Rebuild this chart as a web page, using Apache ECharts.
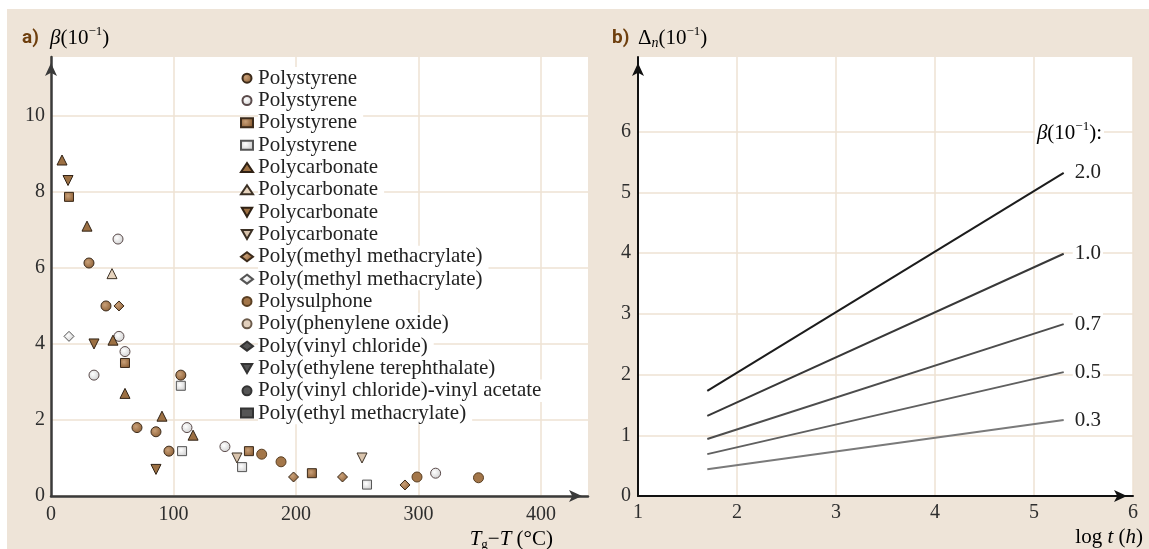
<!DOCTYPE html>
<html>
<head>
<meta charset="utf-8">
<script src="https://cdn.jsdelivr.net/npm/echarts@6.0.0/dist/echarts.min.js"></script>
<style>
  html, body { margin: 0; padding: 0; background: #fff; }
  #container { width: 1149px; height: 549px; }
</style>
</head>
<body>
<div id="container"></div>
<script>
var dom = document.getElementById('container');
var myChart = echarts.init(dom, null, { renderer: 'canvas' });

var SERIF = "'Liberation Serif', 'Times New Roman', serif";

// ---- panel a) data: [Tg - T (°C), beta (10^-1)]
var materials = [
  'Polystyrene', 'Polystyrene', 'Polystyrene', 'Polystyrene',
  'Polycarbonate', 'Polycarbonate', 'Polycarbonate', 'Polycarbonate',
  'Poly(methyl methacrylate)', 'Poly(methyl methacrylate)',
  'Polysulphone', 'Poly(phenylene oxide)', 'Poly(vinyl chloride)',
  'Poly(ethylene terephthalate)', 'Poly(vinyl chloride)-vinyl acetate',
  'Poly(ethyl methacrylate)'
];
var psFillCircle = [[31, 6.13], [44.9, 5.0], [70.2, 1.8], [85.7, 1.69], [96.3, 1.18], [106, 3.18]];
var psOpenCircle = [[54.7, 6.76], [55.5, 4.2], [60.4, 3.8], [35.1, 3.18], [111, 1.8], [142, 1.3], [314, 0.6]];
var psFillSquare = [[14.7, 7.87], [60.4, 3.5], [161.6, 1.18], [213, 0.6]];
var psOpenSquare = [[106, 2.9], [107, 1.18], [156, 0.76], [258, 0.3]];
var pcFillUp = [[9, 8.84], [29.4, 7.1], [50.6, 4.1], [60.4, 2.7], [90.6, 2.1], [116, 1.6]];
var pcOpenUp = [[49.8, 5.85]];
var pcFillDown = [[13.9, 8.3], [35.1, 4.0], [85.7, 0.7]];
var pcOpenDown = [[151.8, 1.0], [253.9, 1.0]];
var pmmaFill = [[55.5, 5.0], [198, 0.5], [238, 0.5], [289, 0.29]];
var pmmaOpen = [[14.7, 4.2]];
var psuFill = [[172, 1.1], [187.8, 0.9], [298.8, 0.5], [349, 0.48]];
var ppoOpen = [];
var pvcFill = [];
var petFill = [];
var pvcvaFill = [];
var pemaFill = [];
var pointSets = [psFillCircle, psOpenCircle, psFillSquare, psOpenSquare,
  pcFillUp, pcOpenUp, pcFillDown, pcOpenDown, pmmaFill, pmmaOpen,
  psuFill, ppoOpen, pvcFill, petFill, pvcvaFill, pemaFill];

var xTicksA = [0, 100, 200, 300, 400];
var yTicksA = [0, 2, 4, 6, 8, 10];

// ---- panel b) data: log t (h) vs birefringence (10^-1)
var logT = [1.7, 5.3];
var betaLabels = ['2.0', '1.0', '0.7', '0.5', '0.3'];
var dn20 = [1.73, 5.32];
var dn10 = [1.32, 3.99];
var dn07 = [0.94, 2.83];
var dn05 = [0.69, 2.04];
var dn03 = [0.44, 1.25];
var lineSets = [dn20, dn10, dn07, dn05, dn03];
var xTicksB = [1, 2, 3, 4, 5, 6];
var yTicksB = [0, 1, 2, 3, 4, 5, 6];

// ---- styles
var brownShade = {
  type: 'radial', x: 0.4, y: 0.4, r: 0.65,
  colorStops: [{ offset: 0, color: '#c9a078' }, { offset: 1, color: '#8c5f35' }]
};
var greyShade = {
  type: 'radial', x: 0.4, y: 0.4, r: 0.65,
  colorStops: [{ offset: 0, color: '#ffffff' }, { offset: 1, color: '#cfcfcf' }]
};
var downTri = 'path://M0,0L10,0L5,8.66Z';
var markStyles = [
  { symbol: 'circle', fill: brownShade, stroke: '#3b2a1a' },
  { symbol: 'circle', fill: greyShade, stroke: '#5a4a4a' },
  { symbol: 'rect', fill: brownShade, stroke: '#3b2a1a' },
  { symbol: 'rect', fill: greyShade, stroke: '#555' },
  { symbol: 'triangle', fill: '#9c7043', stroke: '#2f2114' },
  { symbol: 'triangle', fill: '#e6d3bd', stroke: '#3b3024' },
  { symbol: downTri, fill: '#9c7043', stroke: '#2f2114' },
  { symbol: downTri, fill: '#d9c4ad', stroke: '#3b3024' },
  { symbol: 'diamond', fill: brownShade, stroke: '#3b2a1a' },
  { symbol: 'diamond', fill: greyShade, stroke: '#555' },
  { symbol: 'circle', fill: '#a37649', stroke: '#5a3f22' },
  { symbol: 'circle', fill: '#e2d0bd', stroke: '#6a5a4a' },
  { symbol: 'diamond', fill: '#555', stroke: '#333' },
  { symbol: downTri, fill: '#555', stroke: '#333' },
  { symbol: 'circle', fill: '#555', stroke: '#333' },
  { symbol: 'rect', fill: '#555', stroke: '#333' }
];
var lineColors = ['#1c1c1c', '#383838', '#4d4d4d', '#606060', '#7a7a7a'];

var series = [];
var legendNames = [];
materials.forEach(function (m, i) {
  var name = m + '#' + i;
  legendNames.push(name);
  var st = markStyles[i];
  series.push({
    type: 'scatter',
    name: name,
    xAxisIndex: 0,
    yAxisIndex: 0,
    symbol: st.symbol,
    symbolSize: st.symbol === 'rect' ? 9 : 10,
    itemStyle: { color: st.fill, borderColor: st.stroke, borderWidth: 1, opacity: 1 },
    data: pointSets[i],
    z: 3
  });
});
lineSets.forEach(function (vals, i) {
  series.push({
    type: 'line',
    name: 'beta ' + betaLabels[i],
    xAxisIndex: 1,
    yAxisIndex: 1,
    showSymbol: false,
    symbol: 'none',
    lineStyle: { color: lineColors[i], width: 2 },
    data: logT.map(function (t, k) { return [t, vals[k]]; }),
    endLabel: {
      show: true,
      formatter: betaLabels[i],
      fontFamily: SERIF,
      fontSize: 21,
      color: '#222',
      backgroundColor: '#fff',
      padding: [1, 2, 1, 2],
      distance: 9
    }
  });
});

function valueAxis(gi, min, max, ticks, margin, axisColor, width) {
  return {
    type: 'value',
    gridIndex: gi,
    min: min,
    max: max,
    axisLine: {
      show: true,
      onZero: false,
      symbol: ['none', 'arrow'],
      symbolSize: [9, 13],
      symbolOffset: [0, -6],
      lineStyle: { color: axisColor, width: width }
    },
    axisTick: { show: false, customValues: ticks },
    axisLabel: {
      customValues: ticks,
      margin: margin,
      fontFamily: SERIF,
      fontSize: 20,
      color: '#2e2e2e'
    },
    splitLine: { show: true, lineStyle: { color: '#eee2d3', width: 1.5 } }
  };
}

var richBase = {
  n: { fontFamily: SERIF, fontSize: 21, color: '#222', lineHeight: 24 },
  i: { fontFamily: SERIF, fontSize: 21, fontStyle: 'italic', color: '#222', lineHeight: 24 },
  sup: { fontFamily: SERIF, fontSize: 13, color: '#222', lineHeight: 24, padding: [0, 0, 12, 0] },
  sub: { fontFamily: SERIF, fontSize: 13, color: '#222', lineHeight: 24, padding: [12, 0, 0, 0] },
  isub: { fontFamily: SERIF, fontSize: 14, fontStyle: 'italic', color: '#222', lineHeight: 24, padding: [10, 0, 0, 0] }
};
function richText(x, y, text, align, bg) {
  var st = { text: text, rich: richBase, align: align || 'left', verticalAlign: 'middle' };
  if (bg) {
    st.backgroundColor = bg;
    st.padding = [0, 2, 0, 2];
  }
  return { type: 'text', x: x, y: y, z: 10, style: st };
}
function panelTag(x, y, text) {
  return {
    type: 'text',
    x: x,
    y: y,
    style: {
      text: text,
      font: "bold 19px 'Liberation Sans Narrow', 'Roboto', sans-serif",
      fill: '#6e3f0e',
      verticalAlign: 'middle'
    }
  };
}

option = {
  backgroundColor: '#eee4d8',
  animation: false,
  grid: [
    { left: 51, top: 57, width: 537, height: 439, show: true, backgroundColor: '#fff', borderWidth: 0 },
    { left: 638, top: 57, width: 495, height: 439, show: true, backgroundColor: '#fff', borderWidth: 0 }
  ],
  xAxis: [
    valueAxis(0, 0, 438.4, xTicksA, 9, '#3a3a3a', 2.5),
    valueAxis(1, 1, 6, xTicksB, 7, '#111', 2)
  ],
  yAxis: [
    valueAxis(0, 0, 11.55, yTicksA, 6, '#3a3a3a', 2.5),
    valueAxis(1, 0, 7.23, yTicksB, 7, '#111', 2)
  ],
  legend: {
    data: legendNames,
    orient: 'vertical',
    left: 240,
    top: 67,
    padding: 0,
    itemGap: 0,
    itemWidth: 12,
    itemHeight: 9,
    selectedMode: false,
    formatter: function (name) { return name.split('#')[0]; },
    textStyle: {
      fontFamily: SERIF,
      fontSize: 21,
      color: '#222',
      lineHeight: 22.33,
      backgroundColor: '#fff',
      padding: [0, 6, 0, 0]
    }
  },
  graphic: [
    { type: 'rect', shape: { x: 0, y: 0, width: 1149, height: 9 }, style: { fill: '#fff' } },
    { type: 'rect', shape: { x: 0, y: 0, width: 7, height: 549 }, style: { fill: '#fff' } },
    panelTag(22, 38, 'a)'),
    richText(50, 38, '{i|β}{n|(10}{sup|−1}{n|)}'),
    richText(553, 539, '{i|T}{sub|g}{n|−}{i|T}{n| (°C)}', 'right'),
    panelTag(612, 38, 'b)'),
    richText(638, 38, '{n|Δ}{isub|n}{n|(10}{sup|−1}{n|)}'),
    richText(1143, 537, '{n|log }{i|t}{n| (}{i|h}{n|)}', 'right'),
    richText(1104, 133, '{i|β}{n|(10}{sup|−1}{n|):}', 'right', '#fff')
  ],
  series: series
};

myChart.setOption(option);
window.addEventListener('resize', myChart.resize);
</script>
</body>
</html>
